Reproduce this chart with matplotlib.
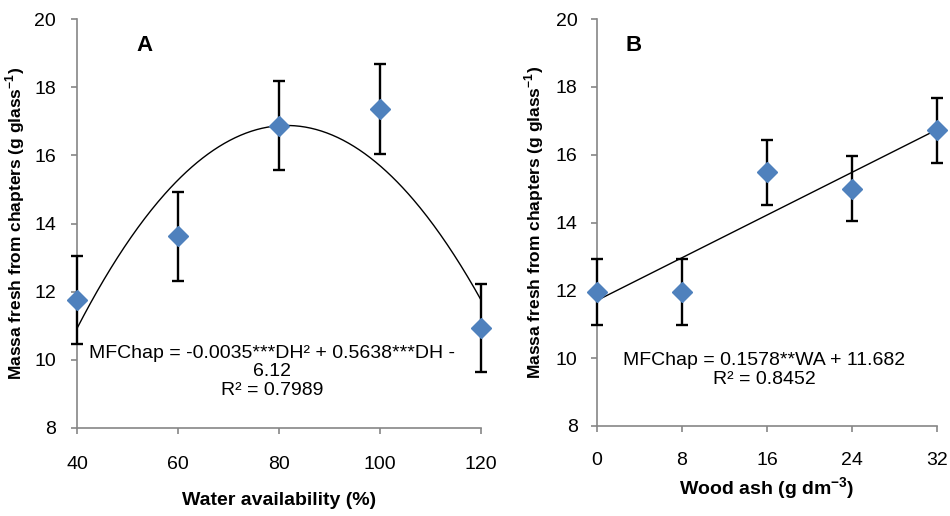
import numpy as np
import matplotlib
matplotlib.use("Agg")
import matplotlib.pyplot as plt

plt.rcParams['font.family'] = ['Liberation Sans', 'DejaVu Sans']
plt.rcParams['mathtext.fontset'] = 'custom'
plt.rcParams['mathtext.rm'] = 'Liberation Sans'
plt.rcParams['mathtext.bf'] = 'Liberation Sans:bold'

# panel A: water availability
water = [40, 60, 80, 100, 120]
massA = [11.75, 13.62, 16.87, 17.35, 10.93]
errA = [1.3, 1.3, 1.3, 1.32, 1.3]

# panel B: wood ash
ash = [0, 8, 16, 24, 32]
massB = [11.95, 11.95, 15.48, 15.0, 16.72]
errB = [0.96, 0.96, 0.96, 0.97, 0.96]

eqA = "MFChap = -0.0035***DH² + 0.5638***DH -\n6.12\nR² = 0.7989"
eqB = "MFChap = 0.1578**WA + 11.682\nR² = 0.8452"
ylab = r'Massa fresh from chapters (g glass$^{\mathbf{-1}}$)'

W, H = 950, 516
fig = plt.figure(figsize=(W / 100, H / 100), dpi=100)

def px_axes(x0, x1, y0, y1):
  return fig.add_axes([x0 / W, 1 - y1 / H, (x1 - x0) / W, (y1 - y0) / H])

grey = '#868686'
blue = '#4f81bd'
fs = 14

def style(ax, ypad):
  for s in ['top', 'right']:
    ax.spines[s].set_visible(False)
  for s in ['left', 'bottom']:
    ax.spines[s].set_color(grey)
    ax.spines[s].set_linewidth(1.2)
  ax.tick_params(axis='both', direction='out', length=4, width=1.2, color=grey,
                 labelsize=fs)
  ax.tick_params(axis='y', pad=ypad)
  ax.set_ylim(8, 20)
  ax.set_yticks(np.arange(8, 21, 2))

def draw_points(ax, x, y, e):
  ax.errorbar(x, y, yerr=e, fmt='none', ecolor='black', elinewidth=1.7,
              capsize=4, capthick=1.7, zorder=3, clip_on=False)
  ax.plot(x, y, 'D', color=blue, markersize=10, zorder=4, clip_on=False)

# ---- A
axA = px_axes(77, 481, 19, 428)
style(axA, 11)
axA.set_xlim(40, 120)
axA.set_xticks(water)
axA.tick_params(axis='x', pad=16)
coef = np.polyfit(water, massA, 2)
xs = np.linspace(40, 120, 300)
axA.plot(xs, np.polyval(coef, xs), color='black', lw=1.0, zorder=2)
draw_points(axA, water, massA, errA)
axA.set_xlabel('Water availability (%)', fontsize=fs, fontweight='bold', labelpad=14)
axA.set_ylabel(ylab, fontsize=12.5, fontweight='bold', labelpad=5)
axA.text(0.168, 0.936, 'A', transform=axA.transAxes, fontsize=16, fontweight='bold',
         ha='center', va='center')
axA.text(272 / W, 1 - 372 / H, eqA, transform=fig.transFigure, fontsize=fs,
         ha='center', va='center', linespacing=1.12)

# ---- B
axB = px_axes(597, 937, 19, 426)
style(axB, 10)
axB.set_xlim(0, 32)
axB.set_xticks(ash)
axB.tick_params(axis='x', pad=15)
fit = np.polyfit(ash, massB, 1)
xl = np.array([0, 32])
axB.plot(xl, np.polyval(fit, xl), color='black', lw=1.0, zorder=2)
draw_points(axB, ash, massB, errB)
axB.set_xlabel(r'Wood ash (g dm$^{\mathbf{-3}}$)', fontsize=fs, fontweight='bold', labelpad=4)
axB.set_ylabel(ylab, fontsize=12.5, fontweight='bold', labelpad=7)
axB.text(0.109, 0.936, 'B', transform=axB.transAxes, fontsize=16, fontweight='bold',
         ha='center', va='center')
axB.text(764 / W, 1 - 370 / H, eqB, transform=fig.transFigure, fontsize=fs,
         ha='center', va='center', linespacing=1.2)

fig.savefig('out.png', dpi=100)
